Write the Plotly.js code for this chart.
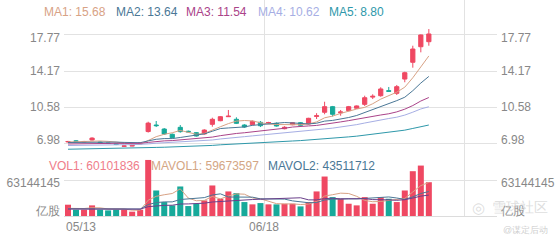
<!DOCTYPE html>
<html><head><meta charset="utf-8">
<script src="https://cdn.plot.ly/plotly-3.0.1.min.js"></script>
<style>html,body{margin:0;padding:0;background:#fff;}#chart{width:560px;height:240px;}</style>
</head><body><div id="chart"></div>
<script>
// ---- data ----
const openP  = [7.12,7.22,7.12,7.31,7.10,7.00,6.92,6.68,6.70,6.92,8.15,8.80,8.40,7.88,8.57,8.18,8.04,7.91,8.87,9.23,9.63,9.37,8.80,8.83,9.07,9.00,8.97,8.43,8.83,9.03,8.90,9.66,10.07,10.63,10.02,10.23,10.47,10.86,11.58,11.72,12.22,11.96,13.38,15.05,16.60,17.10];
const highP  = [7.22,7.30,7.22,7.58,7.16,7.03,7.00,6.76,6.80,7.02,9.13,9.20,8.50,7.95,8.80,8.25,8.10,8.38,9.53,9.70,10.30,9.57,8.88,9.25,9.20,9.12,9.05,8.68,9.08,9.10,9.52,9.98,11.12,10.70,10.30,10.70,10.75,11.72,11.86,12.56,12.59,12.79,14.11,16.70,17.82,18.36];
const lowP   = [7.05,7.10,7.08,7.26,7.00,6.94,6.80,6.64,6.68,6.88,8.05,8.60,7.81,7.50,8.04,8.05,7.65,7.85,8.63,9.18,9.60,8.90,8.52,8.78,8.60,8.95,8.65,8.38,8.78,8.72,8.85,9.40,9.87,9.65,9.73,10.18,10.42,10.70,11.39,11.62,12.12,11.79,13.06,14.51,16.04,16.70];
const closeP = [7.16,7.18,7.16,7.50,7.06,6.97,6.86,6.72,6.76,6.99,8.99,8.74,7.91,7.54,8.14,8.12,7.71,8.30,9.37,9.63,9.68,8.97,8.60,9.17,8.73,9.05,8.70,8.58,9.03,8.77,9.47,9.72,10.63,9.87,10.10,10.63,10.70,11.52,11.66,12.39,12.16,12.62,14.01,16.37,17.77,17.87];
const ma1 = [7.11,7.13,7.14,7.22,7.21,7.17,7.11,7.02,6.87,6.86,7.26,7.64,7.88,8.03,8.26,8.09,7.88,7.96,8.33,8.63,8.94,9.19,9.25,9.21,9.03,8.90,8.85,8.85,8.82,8.83,8.91,9.11,9.52,9.69,9.96,10.19,10.39,10.56,10.92,11.38,11.69,12.07,12.57,13.51,14.59,15.68];
const ma2 = [7.06,7.07,7.09,7.13,7.13,7.12,7.10,7.07,7.04,7.04,7.22,7.38,7.45,7.45,7.56,7.68,7.76,7.92,8.18,8.45,8.51,8.54,8.61,8.77,8.83,8.92,9.02,9.05,9.01,8.93,8.91,8.98,9.19,9.26,9.39,9.55,9.75,10.04,10.31,10.67,10.94,11.23,11.57,12.22,12.98,13.64];
const ma3 = [6.91,6.93,6.94,6.97,6.98,6.98,6.98,6.97,6.96,6.97,7.07,7.16,7.22,7.25,7.31,7.37,7.41,7.48,7.60,7.74,7.87,7.96,8.03,8.11,8.20,8.30,8.39,8.48,8.60,8.69,8.71,8.76,8.90,9.01,9.11,9.24,9.39,9.55,9.66,9.80,9.92,10.11,10.38,10.74,11.19,11.54];
const ma4 = [6.76,6.78,6.79,6.82,6.83,6.83,6.84,6.84,6.84,6.85,6.92,6.99,7.03,7.05,7.10,7.14,7.18,7.23,7.31,7.41,7.51,7.58,7.64,7.72,7.79,7.87,7.93,7.99,8.07,8.14,8.21,8.30,8.41,8.49,8.59,8.72,8.84,9.00,9.17,9.35,9.45,9.58,9.79,10.08,10.40,10.62];
const ma5 = [6.39,6.40,6.42,6.44,6.45,6.46,6.46,6.47,6.48,6.49,6.53,6.57,6.59,6.61,6.64,6.67,6.69,6.72,6.77,6.83,6.88,6.93,6.96,7.01,7.05,7.09,7.13,7.17,7.21,7.25,7.30,7.36,7.43,7.49,7.55,7.62,7.69,7.78,7.86,7.96,8.06,8.16,8.29,8.46,8.65,8.80];
// volume in millions of shares
const volume = [20.1,11.2,11.2,18.9,11.2,10.0,11.2,11.2,7.7,11.2,99.7,45.4,24.8,18.9,52.5,17.7,21.8,27.7,54.3,30.7,43.7,40.7,24.8,20.7,23.0,20.7,20.7,21.8,21.8,17.1,24.8,43.7,70.2,33.6,30.7,21.8,18.9,33.6,21.8,33.6,30.7,24.8,45.4,79.7,89.7,60.101836];
const mavol1 = [13.6,13.5,13.3,14.7,14.5,12.5,12.5,12.5,10.3,10.3,28.2,35.0,37.8,40.0,48.3,31.9,27.1,27.7,34.8,30.4,35.6,39.4,38.8,32.1,30.6,26.0,22.0,21.4,21.6,20.4,21.2,25.8,35.5,37.9,40.6,40.0,35.0,27.7,25.4,25.9,27.7,28.9,31.3,42.8,54.1,59.673597];
const mavol2 = [12.8,12.7,12.7,13.3,13.3,13.1,13.0,12.9,12.5,12.4,20.4,23.8,25.1,25.1,29.3,30.0,31.1,32.7,37.4,39.4,33.8,33.3,33.3,33.5,30.5,30.8,30.7,30.1,26.9,25.5,23.6,23.9,28.5,29.7,30.5,30.6,30.4,31.6,31.6,33.3,33.9,32.0,29.5,34.1,40.0,43.511712];
const mavol3 = [12.4,12.4,12.4,12.4,12.3,12.3,12.3,12.3,12.2,12.2,16.6,18.3,18.9,19.2,21.3,21.5,22.0,22.8,24.9,25.9,27.1,28.5,29.2,29.3,29.9,30.4,30.9,31.4,32.1,32.4,28.7,28.6,30.9,31.6,30.5,30.7,30.6,30.9,29.2,29.4,28.7,27.9,29.0,31.9,35.3,37.2];
const priceTicks = [6.98, 10.58, 14.17, 17.77];
const priceTickText = ['6.98', '10.58', '14.17', '17.77'];
const volTicks = [0, 63.144145];
const volTickText = ['亿股', '63144145'];
const dateLabels = ['05/13', '06/18'];
const maLegend = ['MA1: 15.68', 'MA2: 13.64', 'MA3: 11.54', 'MA4: 10.62', 'MA5: 8.80'];
const volLegend = ['VOL1: 60101836', 'MAVOL1: 59673597', 'MAVOL2: 43511712'];
const watermark = ['雪球社区', '@谋定后动'];

// ---- styles ----
const RED = '#ef4862', TEAL = '#17a99a';
const maColors = ['#d8a285', '#4a7796', '#aa4389', '#a6aee4', '#2e98aa'];
const volLegendColors = ['#ef7d8a', '#d4a684', '#4a7796'];
const FONT = 'Liberation Sans, Arial, sans-serif';
const idx = closeP.map((_, i) => i);

const traces = [];
traces.push({type:'candlestick', x: idx, open: openP, high: highP, low: lowP, close: closeP,
  xaxis:'x', yaxis:'y', whiskerwidth: 0, hoverinfo:'skip', showlegend:false,
  increasing:{line:{color:RED, width:1}, fillcolor:RED},
  decreasing:{line:{color:TEAL, width:1}, fillcolor:TEAL}});
[ma1, ma2, ma3, ma4, ma5].forEach((m, k) => traces.push({type:'scatter', mode:'lines', x: idx, y: m,
  xaxis:'x', yaxis:'y', line:{color: maColors[k], width:1}, hoverinfo:'skip', showlegend:false}));
traces.push({type:'bar', x: idx, y: volume, xaxis:'x', yaxis:'y3', width: 0.75,
  marker:{color: idx.map(i => closeP[i] >= openP[i] ? RED : TEAL)}, hoverinfo:'skip', showlegend:false});
[[mavol1, '#d8a285'], [mavol2, '#4a7796'], [mavol3, '#6a3f8a']].forEach(([m, c]) => traces.push({type:'scatter', mode:'lines',
  x: idx, y: m, xaxis:'x', yaxis:'y3', line:{color:c, width:1}, hoverinfo:'skip', showlegend:false}));

const L = 64, R = 497, T = 0, B = 216;
const W = R - L, H = B - T;
const px = x => (x - L) / W;
const py = y => (B - y) / H;
const annotations = [];
function ann(text, x, y, color, size, xanchor) {
  annotations.push({text, x: px(x), y: py(y), xref:'paper', yref:'paper', xanchor: xanchor || 'left', yanchor:'middle',
    showarrow:false, font:{family: FONT, size: size || 12, color}, borderpad:0});
}
const maX = [43, 115, 185, 257, 328];
maLegend.forEach((t, k) => ann(t, maX[k], 12, maColors[k]));
const volX = [48, 150, 267];
volLegend.forEach((t, k) => ann(t, volX[k], 166, volLegendColors[k]));
annotations.push({text: dateLabels[0], x: -0.5, y: py(227), xref:'x', yref:'paper', xanchor:'left', yanchor:'middle', showarrow:false, font:{family:FONT,size:12,color:'#888'}});
annotations.push({text: dateLabels[1], x: 24.5, y: py(227), xref:'x', yref:'paper', xanchor:'center', yanchor:'middle', showarrow:false, font:{family:FONT,size:12,color:'#888'}});
// watermark
ann('◎', 471, 207, 'rgba(200,200,200,0.6)', 15);
ann(watermark[0], 491, 207, 'rgba(200,200,200,0.6)', 14);
ann(watermark[1], 502, 230, 'rgba(200,200,200,0.9)', 9);

const priceRange = [6.014, 21.253];
const volRange = [0, 126.28829];
const tickFont = {family: FONT, size: 12, color: '#888'};
const layout = {
  width: 560, height: 240, paper_bgcolor:'#fff', plot_bgcolor:'rgba(0,0,0,0)',
  margin:{l: L, r: 560 - R, t: T, b: 240 - B, autoexpand:false},
  showlegend:false, boxgap: 0.25, bargap: 0.25,
  xaxis:{domain:[0,1], range:[-0.5, 53.5], anchor:'y3', tickvals:[-0.5, 24.5, 49.5, 53.5], showticklabels:false,
    ticks:'', showgrid:true, gridcolor:'#e2e2e2', gridwidth:1, zeroline:false, showline:true, linecolor:'#dcdcdc', linewidth:1,
    rangeslider:{visible:false}, fixedrange:true},
  yaxis:{domain:[py(153), 1], range: priceRange, anchor:'x', side:'left', tickvals: priceTicks, showticklabels:false,
    showgrid:true, gridcolor:'#e2e2e2', zeroline:false, ticks:''},
  yaxis3:{domain:[0, py(145)], range: volRange, anchor:'x', side:'left', tickvals: volTicks, showticklabels:false,
    showgrid:true, gridcolor:'#e2e2e2', zeroline:false, ticks:''},
  annotations
};
// label-only mirror axes (left and right), with small shifts for the edge labels
let axN = 4;
function labelAxis(base, range, vals, texts, shift) {
  ['left', 'right'].forEach(side => {
    const n = axN++;
    layout['yaxis' + n] = {overlaying: base, range, anchor:'x', side, tickvals: vals, ticktext: texts,
      showgrid:false, zeroline:false, ticks:'', tickfont: tickFont, ticklabelstandoff: 3, ticklabelshift: shift};
    traces.push({type:'scatter', x:[null], y:[null], xaxis:'x', yaxis:'y' + n, showlegend:false, hoverinfo:'skip'});
  });
}
labelAxis('y', priceRange, priceTicks.slice(1, 3), priceTickText.slice(1, 3), 0);
labelAxis('y', priceRange, [priceTicks[3]], [priceTickText[3]], 3);
labelAxis('y', priceRange, [priceTicks[0]], [priceTickText[0]], -4);
labelAxis('y3', volRange, [volTicks[0]], [volTickText[0]], -5);
labelAxis('y3', volRange, [volTicks[1]], [volTickText[1]], 2);
Plotly.newPlot('chart', traces, layout, {staticPlot:true, displayModeBar:false});
</script></body></html>
